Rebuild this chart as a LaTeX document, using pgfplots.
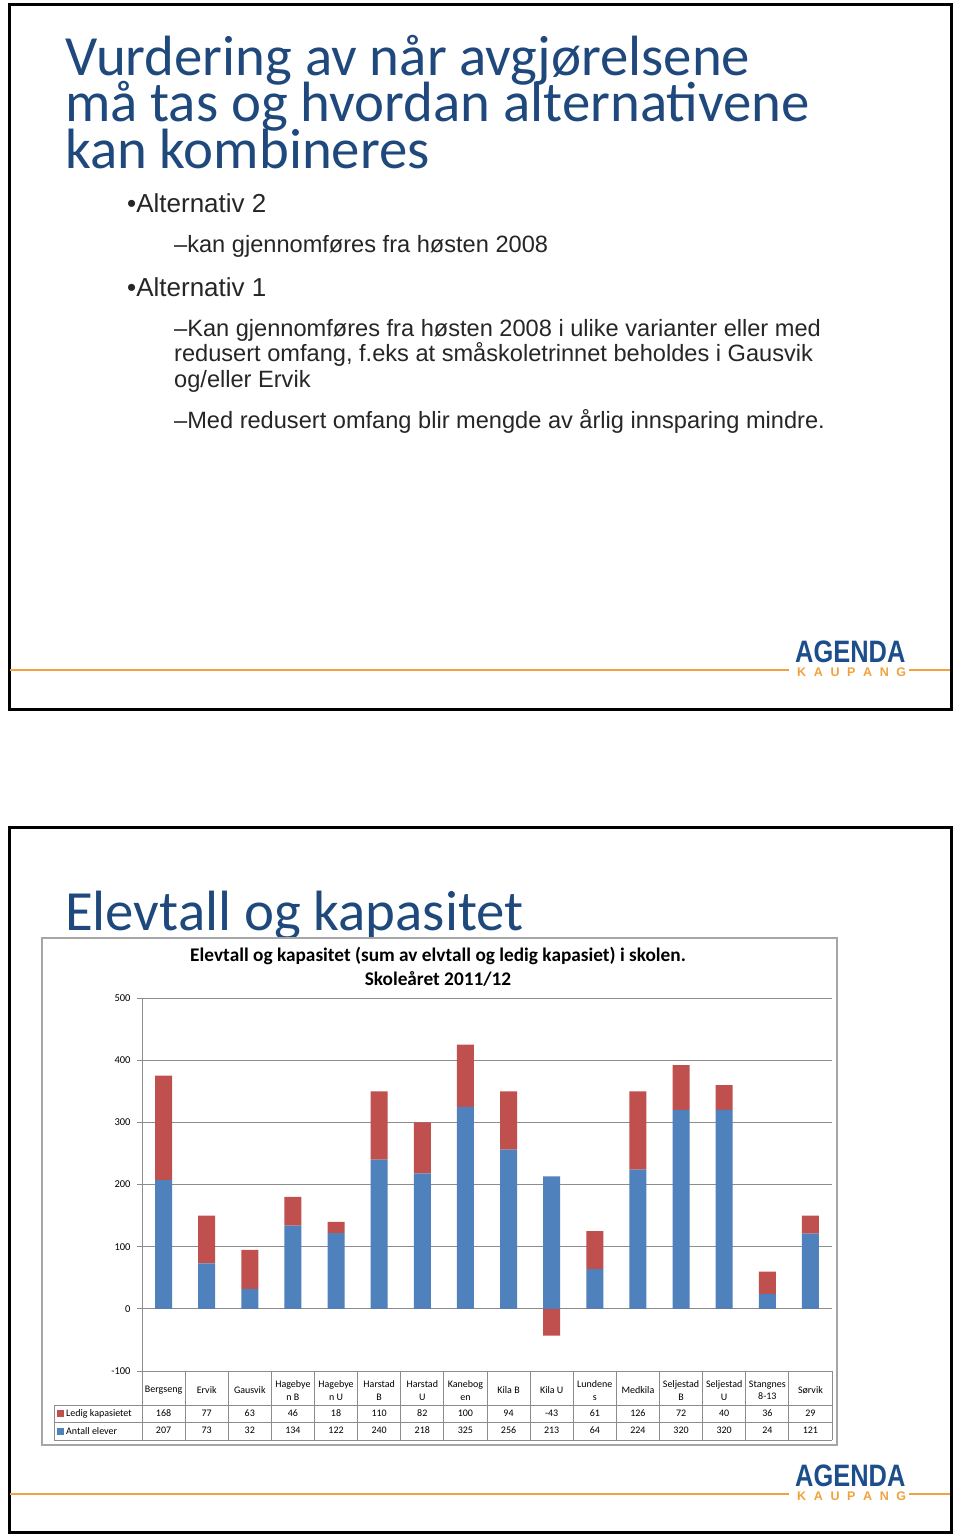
\documentclass[border=0pt]{standalone}
\usepackage{pgfplots}
\pgfplotsset{compat=1.18}
\usepackage{pgfplotstable}
\usepackage{fontspec}
\setmainfont{Carlito}
\newfontfamily\arialfont{Liberation Sans}
\definecolor{titleblue}{HTML}{1F497D}
\definecolor{exblue}{HTML}{4F81BD}
\definecolor{exred}{HTML}{C0504D}
\definecolor{logoorange}{HTML}{F0A23C}
\definecolor{logoblue}{HTML}{1C4E8C}
\definecolor{gridgray}{HTML}{8C8C8C}
\definecolor{boxgray}{HTML}{A6A6A6}
\definecolor{bodytext}{HTML}{262626}
\newcommand\tabfont{\fontsize{10}{12.5}\selectfont}
\newcommand\titlefont{\fontsize{56.8}{56}\selectfont}
\newcommand\lvlone{\arialfont\fontsize{26}{28}\selectfont}
\newcommand\lvltwo{\arialfont\fontsize{23.6}{25.5}\selectfont}

\pgfplotstableread{
x antall ledig
0 207 168
1 73 77
2 32 63
3 134 46
4 122 18
5 240 110
6 218 82
7 325 100
8 256 94
9 213 -43
10 64 61
11 224 126
12 320 72
13 320 40
14 24 36
15 121 29
}\data

\newcommand\logo[1]{%
  \draw[logoorange, line width=2.5pt] (10,#1) -- (789,#1);
  \draw[logoorange, line width=2.5pt] (909,#1) -- (950,#1);
  \node[anchor=base west, inner sep=0pt, text depth=0pt, text=logoblue] at (795,#1-7.5)
    {\scalebox{0.82}[1]{\arialfont\bfseries\fontsize{31}{30}\selectfont AGENDA}};
  \node[anchor=base west, inner sep=0pt, text height=9pt, text depth=0pt, text=logoorange] at (797,#1+6.3)
    {\makebox[109pt][s]{\arialfont\bfseries\fontsize{12.5}{12.5}\selectfont K\hfill A\hfill U\hfill P\hfill A\hfill N\hfill G}};
}

\begin{document}
\begin{tikzpicture}[x=1pt,y=-1pt]
\useasboundingbox (0,0) rectangle (960,1534);
\fill[white] (0,0) rectangle (960,1534);

% ---------------- slide 1 ----------------
\draw[line width=3pt] (9,4.5) rectangle (951,709);
\node[anchor=base west, inner sep=0pt, text=titleblue, font=\titlefont] at (65,75) {Vurdering av når avgjørelsene};
\node[anchor=base west, inner sep=0pt, text=titleblue, font=\titlefont] at (65,121.5) {må tas og hvordan alternativene};
\node[anchor=base west, inner sep=0pt, text=titleblue, font=\titlefont] at (65,168) {kan kombineres};

\node[anchor=base west, inner sep=0pt, text=bodytext, font=\lvlone] at (127,212) {•Alternativ 2};
\node[anchor=base west, inner sep=0pt, text=bodytext, font=\lvltwo] at (174,252) {–kan gjennomføres fra høsten 2008};
\node[anchor=base west, inner sep=0pt, text=bodytext, font=\lvlone] at (127,296) {•Alternativ 1};
\node[anchor=base west, inner sep=0pt, text=bodytext, font=\lvltwo] at (174,336) {–Kan gjennomføres fra høsten 2008 i ulike varianter eller med};
\node[anchor=base west, inner sep=0pt, text=bodytext, font=\lvltwo] at (174,361.5) {redusert omfang, f.eks at småskoletrinnet beholdes i Gausvik};
\node[anchor=base west, inner sep=0pt, text=bodytext, font=\lvltwo] at (174,387) {og/eller Ervik};
\node[anchor=base west, inner sep=0pt, text=bodytext, font=\lvltwo] at (174,428) {–Med redusert omfang blir mengde av årlig innsparing mindre.};

\logo{670}

% ---------------- slide 2 ----------------
\draw[line width=3pt] (9,827.5) rectangle (951,1532);
\node[anchor=base west, inner sep=0pt, text=titleblue, font=\titlefont] at (65,930) {Elevtall og kapasitet};
\logo{1494}

\filldraw[fill=white, draw=boxgray, line width=1.2pt] (42,938) rectangle (837,1445);
\node[anchor=base, inner sep=0pt, font=\bfseries\fontsize{19.3}{19}\selectfont] at (438,961) {Elevtall og kapasitet (sum av elvtall og ledig kapasiet) i skolen.};
\node[anchor=base, inner sep=0pt, font=\bfseries\fontsize{19.3}{19}\selectfont] at (438,985) {Skoleåret 2011/12};

\begin{axis}[
  at={(142pt,-1371pt)}, anchor=south west,
  width=690pt, height=373pt, scale only axis,
  xmin=-0.5, xmax=15.5, ymin=-100, ymax=500,
  ybar stacked, bar width=17pt,
  axis x line*=bottom, axis y line*=left,
  axis line style={draw=gridgray, line width=1pt},
  ytick={-100,0,100,200,300,400,500},
  ymajorgrids, grid style={draw=gridgray, line width=1pt},
  tick align=outside, major tick length=5pt,
  ytick style={draw=gridgray, line width=1pt},
  xtick={0,...,15}, xtick style={draw=none},
  xticklabels={Bergseng, Ervik, Gausvik, {Hagebye\\n B}, {Hagebye\\n U}, {Harstad\\B}, {Harstad\\U}, {Kanebog\\en}, Kila B, Kila U, {Lundene\\s}, Medkila, {Seljestad\\B}, {Seljestad\\U}, {Stangnes\\8-13}, Sørvik},
  xticklabel style={anchor=center, yshift=-14.5pt, align=center, font=\tabfont, inner sep=0pt},
  yticklabel style={font=\fontsize{10.5}{12}\selectfont, xshift=-3pt},
  /pgf/number format/assume math mode=true,
  clip=false,
]
\addplot[fill=exblue, draw=none] table[x=x, y=antall] {\data};
\addplot[fill=exred, draw=none] table[x=x, y expr={max(\thisrow{ledig},0)}] {\data};
\end{axis}

\begin{axis}[
  at={(142pt,-1371pt)}, anchor=south west,
  width=690pt, height=373pt, scale only axis,
  xmin=-0.5, xmax=15.5, ymin=-100, ymax=500,
  hide axis, clip=false,
  every node near coord/.append style={anchor=center, font=\tabfont, inner sep=0pt, text=black},
]
\addplot[ybar, bar width=17pt, bar shift=0pt, fill=exred, draw=none] table[x=x, y expr={min(\thisrow{ledig},0)}] {\data};
\addplot[draw=none, mark=none, point meta=explicit symbolic, nodes near coords] table[x=x, y expr=-167.2, meta=ledig] {\data};
\addplot[draw=none, mark=none, point meta=explicit symbolic, nodes near coords] table[x=x, y expr=-195.3, meta=antall] {\data};
\end{axis}

% data table grid
\draw[gridgray, line width=1pt] (54,1405) -- (832,1405);
\draw[gridgray, line width=1pt] (54,1422) -- (832,1422);
\draw[gridgray, line width=1pt] (54,1440) -- (832,1440);
\draw[gridgray, line width=1pt] (54,1405) -- (54,1440);
\foreach \k in {0,...,16} {
  \draw[gridgray, line width=1pt] ({142+43.125*\k},1371) -- ({142+43.125*\k},1440);
}
\fill[exred] (57,1410) rectangle (64,1417);
\node[anchor=west, inner sep=0pt, font=\tabfont] at (66,1413.5) {Ledig kapasietet};
\fill[exblue] (57,1427.5) rectangle (64,1434.5);
\node[anchor=west, inner sep=0pt, font=\tabfont] at (66,1431) {Antall elever};
\end{tikzpicture}
\end{document}
